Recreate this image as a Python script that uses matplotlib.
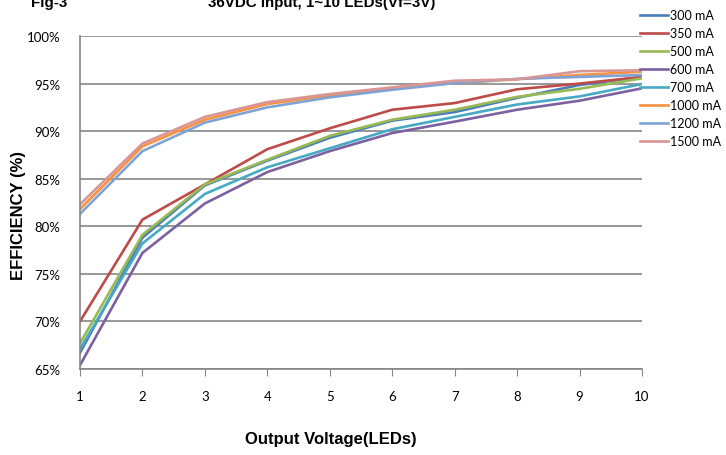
from matplotlib import pyplot as plt

# Efficiency curves, 36VDC input, 1~10 LEDs (Vf=3V)
leds = [1, 2, 3, 4, 5, 6, 7, 8, 9, 10]
labels = ["300 mA", "350 mA", "500 mA", "600 mA", "700 mA", "1000 mA", "1200 mA", "1500 mA"]
eff_300 = [66.7, 78.8, 84.3, 86.9, 89.3, 91.1, 92.0, 93.5, 94.85, 95.7]
eff_350 = [70.0, 80.7, 84.4, 88.1, 90.3, 92.25, 92.95, 94.4, 95.0, 95.7]
eff_500 = [67.7, 79.1, 84.4, 87.0, 89.5, 91.2, 92.25, 93.6, 94.45, 95.55]
eff_600 = [65.4, 77.2, 82.4, 85.7, 87.9, 89.8, 91.0, 92.25, 93.2, 94.5]
eff_700 = [67.1, 78.2, 83.4, 86.2, 88.2, 90.2, 91.5, 92.8, 93.65, 94.95]
eff_1000 = [81.8, 88.4, 91.2, 92.85, 93.75, 94.5, 95.05, 95.45, 95.9, 96.25]
eff_1200 = [81.3, 87.9, 90.9, 92.5, 93.55, 94.35, 95.05, 95.5, 95.7, 95.9]
eff_1500 = [82.3, 88.7, 91.5, 93.05, 93.9, 94.6, 95.3, 95.45, 96.3, 96.4]
series = [eff_300, eff_350, eff_500, eff_600, eff_700, eff_1000, eff_1200, eff_1500]
colors = ["#4A7EBB", "#BE4B48", "#98B954", "#7D60A0", "#46AAC5", "#F69240", "#7FA3D6", "#D99694"]
y_ticks = [65, 70, 75, 80, 85, 90, 95, 100]

fig = plt.figure(figsize=(7.26, 4.56), dpi=100)
ax = fig.add_axes([80 / 726, 1 - 370 / 456, (642 - 80) / 726, (370 - 37) / 456])

for vals, col, lab in zip(series, colors, labels):
    ax.plot(leds, vals, color=col, lw=1.9, label=lab)

ax.set_xlim(1, 10)
ax.set_ylim(65, 100)
ax.set_yticks(y_ticks)
ax.set_yticklabels([str(t) + "%" for t in y_ticks], fontsize=9.5, family="Lato")
ax.set_xticks(leds)
ax.set_xticklabels([str(v) for v in leds], fontsize=9.5, family="Lato")
ax.tick_params(axis='y', length=0, pad=14)
ax.tick_params(axis='x', direction='out', length=5, color="#868686", pad=10)
ax.grid(axis='y', color="#868686", lw=1.2)
ax.set_axisbelow(True)
for s in ["top", "right"]:
    ax.spines[s].set_visible(False)
for s in ["left", "bottom"]:
    ax.spines[s].set_color("#868686")
    ax.spines[s].set_linewidth(1.2)

fig.text(19 / 726, 1 - 216 / 456, "EFFICIENCY (%)", rotation=90, ha='center', va='center',
         fontsize=12, fontweight='bold', family="Liberation Sans")
fig.text(331 / 726, 1 - 440 / 456, "Output Voltage(LEDs)", ha='center', va='center',
         fontsize=12, fontweight='bold', family="Liberation Sans")
fig.text(322 / 726, 1 - 7 / 456, "36VDC Input, 1~10 LEDs(Vf=3V)", ha='center', va='baseline',
         fontsize=10.9, fontweight='bold', family="Liberation Sans")
fig.text(31 / 726, 1 - 7 / 456, "Fig-3", ha='left', va='baseline',
         fontsize=10.9, fontweight='bold', family="Liberation Sans")

fig.legend(loc='upper left', bbox_to_anchor=(640 / 726, 1 - 10 / 456), frameon=False,
           prop={'family': 'Lato', 'size': 9}, handlelength=2.2, handletextpad=0.2,
           labelspacing=0.48, borderaxespad=0, borderpad=0)

plt.savefig("out.png", format="png")
